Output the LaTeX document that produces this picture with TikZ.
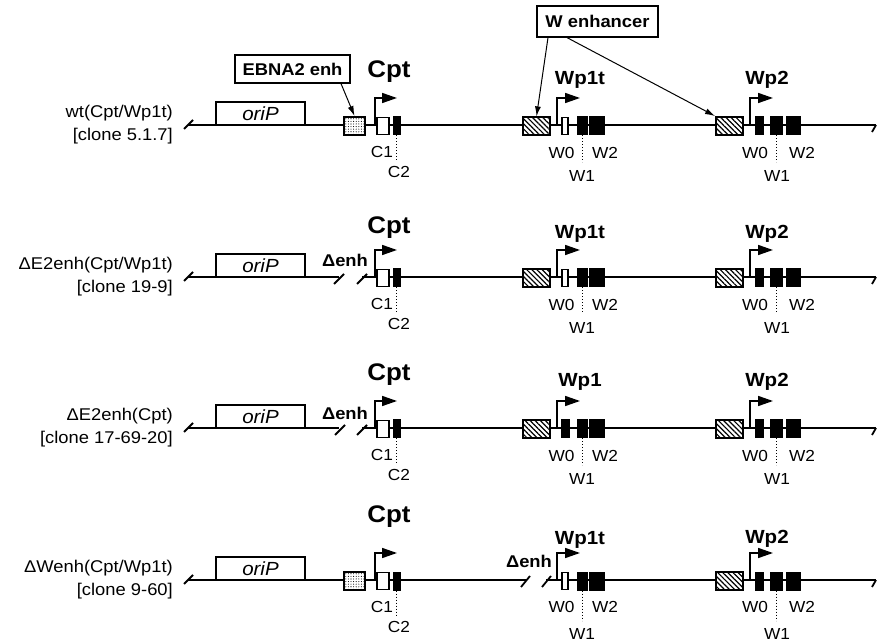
\documentclass[tikz,border=0pt]{standalone}
\usepackage{fontspec}
\setmainfont[FakeStretch=1.08]{Liberation Sans}
\usetikzlibrary{arrows.meta,patterns.meta}
\tikzset{
  x=1pt, y=-1pt,
  dna/.style={line width=2.3pt},
  endtick/.style={line width=1.8pt},
  brk/.style={line width=1.8pt},
  orip/.style={draw, line width=1.8pt, fill=white, minimum width=89pt, minimum height=23pt, inner sep=0pt, font=\fontsize{19}{22}\selectfont\itshape},
  ebox/.style={draw, line width=2pt, preaction={fill=white}, pattern={Dots[distance=2.6pt,radius=0.55pt]}, minimum width=21pt, minimum height=18pt, inner sep=0pt},
  hbox/.style={draw, line width=2pt, preaction={fill=white}, pattern={Lines[angle=-45,distance=3.6pt,line width=1.2pt]}, minimum width=27pt, minimum height=18pt, inner sep=0pt},
  obox/.style={draw, line width=1.8pt, fill=white, minimum height=17pt, inner sep=0pt},
  fbox/.style={draw, line width=1pt, fill=black, minimum height=18pt, inner sep=0pt},
  prom/.style={line width=1.6pt, -{Triangle[length=15pt,width=10pt]}},
  vdots/.style={dotted, line width=1pt},
  sub/.style={font=\fontsize{16}{18}\selectfont, inner sep=0pt},
  rowlbl/.style={font=\fontsize{17}{23}\selectfont, align=right, anchor=east, inner sep=0pt},
  cptlbl/.style={font=\fontsize{24}{28}\selectfont\bfseries, anchor=base, inner sep=0pt},
  wplbl/.style={font=\fontsize{19}{22}\selectfont\bfseries, anchor=base, inner sep=0pt},
  dellbl/.style={font=\fontsize{17}{20}\selectfont\bfseries, anchor=base, inner sep=0pt},
  annot/.style={draw, line width=1.2pt, fill=white, inner sep=0pt, font=\fontsize{17}{20}\selectfont\bfseries},
  conn/.style={line width=1pt, -{Latex[length=10pt,width=6pt]}}
}
\begin{document}
\begin{tikzpicture}
\useasboundingbox (0,0) rectangle (879,644);

% ---------------- Row 1 ----------------
\begin{scope}[shift={(0,125)}]
  \node[rowlbl] (lab1) at (173,0) {wt(Cpt/Wp1t)\\{[}clone 5.1.7{]}};
  \draw[dna] (188,0) -- (876,0);
  \draw[endtick] (184,4) -- (193,-5);
  \draw[endtick] (876,0) -- (872,7);
  \node[orip] (ori1) at (260.5,-11.5) {oriP};
  \node[ebox] (e1) at (354.5,1) {};
  \draw[prom] (375,0) -- (375,-27) -- (397,-27);
  \node[obox, minimum width=12pt] (c1r1) at (383,1) {};
  \node[fbox, minimum width=7pt] (c2r1) at (396.5,1) {};
  \draw[vdots] (c2r1.south) -- ++(0,26);
  \node[sub] (tc1r1) at (382,27) {C1};
  \node[sub] (tc2r1) at (399,47) {C2};
  \node[cptlbl] (cpt1) at (389,-47) {Cpt};
  % Wp1t
  \node[hbox] (h1r1) at (536.5,1) {};
  \draw[prom] (557,0) -- (557,-27) -- (580,-27);
  \node[obox, minimum width=6pt] (w0r1) at (565,1) {};
  \node[fbox, minimum width=10pt] (w1r1) at (582,1) {};
  \node[fbox, minimum width=15pt] (w2r1) at (596.5,1) {};
  \draw[vdots] (w1r1.south) -- ++(0,27);
  \node[sub] (tw0r1) at (561.5,28) {W0};
  \node[sub] (tw2r1) at (605,28) {W2};
  \node[sub] (tw1r1) at (582,51) {W1};
  \node[wplbl] (wp1r1) at (580,-40) {Wp1t};
  % Wp2
  \node[hbox] (h2r1) at (729.5,1) {};
  \draw[prom] (750,0) -- (750,-27) -- (773,-27);
  \node[fbox, minimum width=8pt] (v0r1) at (759,1) {};
  \node[fbox, minimum width=12pt] (v1r1) at (776,1) {};
  \node[fbox, minimum width=14pt] (v2r1) at (793,1) {};
  \draw[vdots] (v1r1.south) -- ++(0,27);
  \node[sub] (tv0r1) at (755,28) {W0};
  \node[sub] (tv2r1) at (802,28) {W2};
  \node[sub] (tv1r1) at (777,51) {W1};
  \node[wplbl] (wp2r1) at (767,-40) {Wp2};
\end{scope}

% ---------------- Row 2 ----------------
\begin{scope}[shift={(0,277)}]
  \node[rowlbl] (lab2) at (173,0) {ΔE2enh(Cpt/Wp1t)\\{[}clone 19-9{]}};
  \draw[dna] (188,0) -- (339,0);
  \draw[dna] (362,0) -- (876,0);
  \draw[brk] (334,7) -- (344,-3);
  \draw[brk] (357,7) -- (367,-3);
  \draw[endtick] (184,4) -- (193,-5);
  \draw[endtick] (876,0) -- (872,7);
  \node[orip] (ori2) at (260.5,-11.5) {oriP};
  \node[dellbl] (del2) at (345,-10) {Δenh};
  \draw[prom] (375,0) -- (375,-27) -- (397,-27);
  \node[obox, minimum width=12pt] (c1r2) at (383,1) {};
  \node[fbox, minimum width=7pt] (c2r2) at (396.5,1) {};
  \draw[vdots] (c2r2.south) -- ++(0,26);
  \node[sub] (tc1r2) at (382,27) {C1};
  \node[sub] (tc2r2) at (399,47) {C2};
  \node[cptlbl] (cpt2) at (389,-43) {Cpt};
  % Wp1t
  \node[hbox] (h1r2) at (536.5,1) {};
  \draw[prom] (557,0) -- (557,-27) -- (580,-27);
  \node[obox, minimum width=6pt] (w0r2) at (565,1) {};
  \node[fbox, minimum width=10pt] (w1r2) at (582,1) {};
  \node[fbox, minimum width=15pt] (w2r2) at (596.5,1) {};
  \draw[vdots] (w1r2.south) -- ++(0,27);
  \node[sub] (tw0r2) at (561.5,28) {W0};
  \node[sub] (tw2r2) at (605,28) {W2};
  \node[sub] (tw1r2) at (582,51) {W1};
  \node[wplbl] (wp1r2) at (580,-38) {Wp1t};
  % Wp2
  \node[hbox] (h2r2) at (729.5,1) {};
  \draw[prom] (750,0) -- (750,-27) -- (773,-27);
  \node[fbox, minimum width=8pt] (v0r2) at (759,1) {};
  \node[fbox, minimum width=12pt] (v1r2) at (776,1) {};
  \node[fbox, minimum width=14pt] (v2r2) at (793,1) {};
  \draw[vdots] (v1r2.south) -- ++(0,27);
  \node[sub] (tv0r2) at (755,28) {W0};
  \node[sub] (tv2r2) at (802,28) {W2};
  \node[sub] (tv1r2) at (777,51) {W1};
  \node[wplbl] (wp2r2) at (767,-38) {Wp2};
\end{scope}

% ---------------- Row 3 ----------------
\begin{scope}[shift={(0,428)}]
  \node[rowlbl] (lab3) at (173,0) {ΔE2enh(Cpt)\\{[}clone 17-69-20{]}};
  \draw[dna] (188,0) -- (339,0);
  \draw[dna] (362,0) -- (876,0);
  \draw[brk] (335,7) -- (345,-3);
  \draw[brk] (357,7) -- (367,-3);
  \draw[endtick] (184,4) -- (193,-5);
  \draw[endtick] (876,0) -- (872,7);
  \node[orip] (ori3) at (260.5,-11.5) {oriP};
  \node[dellbl] (del3) at (345,-8) {Δenh};
  \draw[prom] (375,0) -- (375,-27) -- (397,-27);
  \node[obox, minimum width=12pt] (c1r3) at (383,1) {};
  \node[fbox, minimum width=7pt] (c2r3) at (396.5,1) {};
  \draw[vdots] (c2r3.south) -- ++(0,26);
  \node[sub] (tc1r3) at (382,27) {C1};
  \node[sub] (tc2r3) at (399,47) {C2};
  \node[cptlbl] (cpt3) at (389,-47) {Cpt};
  % Wp1
  \node[hbox] (h1r3) at (536.5,1) {};
  \draw[prom] (557,0) -- (557,-27) -- (580,-27);
  \node[fbox, minimum width=8pt] (w0r3) at (565,1) {};
  \node[fbox, minimum width=10pt] (w1r3) at (582,1) {};
  \node[fbox, minimum width=15pt] (w2r3) at (596.5,1) {};
  \draw[vdots] (w1r3.south) -- ++(0,27);
  \node[sub] (tw0r3) at (561.5,28) {W0};
  \node[sub] (tw2r3) at (605,28) {W2};
  \node[sub] (tw1r3) at (582,51) {W1};
  \node[wplbl] (wp1r3) at (580,-41) {Wp1};
  % Wp2
  \node[hbox] (h2r3) at (729.5,1) {};
  \draw[prom] (750,0) -- (750,-27) -- (773,-27);
  \node[fbox, minimum width=8pt] (v0r3) at (759,1) {};
  \node[fbox, minimum width=12pt] (v1r3) at (776,1) {};
  \node[fbox, minimum width=14pt] (v2r3) at (793,1) {};
  \draw[vdots] (v1r3.south) -- ++(0,27);
  \node[sub] (tv0r3) at (755,28) {W0};
  \node[sub] (tv2r3) at (802,28) {W2};
  \node[sub] (tv1r3) at (777,51) {W1};
  \node[wplbl] (wp2r3) at (767,-41) {Wp2};
\end{scope}

% ---------------- Row 4 ----------------
\begin{scope}[shift={(0,580)}]
  \node[rowlbl] (lab4) at (173,0) {ΔWenh(Cpt/Wp1t)\\{[}clone 9-60{]}};
  \draw[dna] (188,0) -- (526,0);
  \draw[dna] (546,0) -- (876,0);
  \draw[brk] (521,7) -- (530,-4);
  \draw[brk] (542,7) -- (551,-4);
  \draw[endtick] (184,4) -- (193,-5);
  \draw[endtick] (876,0) -- (872,7);
  \node[orip] (ori4) at (260.5,-11.5) {oriP};
  \node[ebox] (e4) at (354.5,1) {};
  \draw[prom] (375,0) -- (375,-27) -- (397,-27);
  \node[obox, minimum width=12pt] (c1r4) at (383,1) {};
  \node[fbox, minimum width=7pt] (c2r4) at (396.5,1) {};
  \draw[vdots] (c2r4.south) -- ++(0,26);
  \node[sub] (tc1r4) at (382,27) {C1};
  \node[sub] (tc2r4) at (399,47) {C2};
  \node[cptlbl] (cpt4) at (389,-58) {Cpt};
  % Wp1t (enhancer deleted)
  \node[dellbl] (del4) at (529,-13) {Δenh};
  \draw[prom] (557,0) -- (557,-27) -- (580,-27);
  \node[obox, minimum width=6pt] (w0r4) at (565,1) {};
  \node[fbox, minimum width=10pt] (w1r4) at (582,1) {};
  \node[fbox, minimum width=15pt] (w2r4) at (596.5,1) {};
  \draw[vdots] (w1r4.south) -- ++(0,30);
  \node[sub] (tw0r4) at (561.5,27) {W0};
  \node[sub] (tw2r4) at (605,27) {W2};
  \node[sub] (tw1r4) at (582,54) {W1};
  \node[wplbl] (wp1r4) at (580,-36) {Wp1t};
  % Wp2
  \node[hbox] (h2r4) at (729.5,1) {};
  \draw[prom] (750,0) -- (750,-27) -- (773,-27);
  \node[fbox, minimum width=8pt] (v0r4) at (759,1) {};
  \node[fbox, minimum width=12pt] (v1r4) at (776,1) {};
  \node[fbox, minimum width=14pt] (v2r4) at (793,1) {};
  \draw[vdots] (v1r4.south) -- ++(0,30);
  \node[sub] (tv0r4) at (755,27) {W0};
  \node[sub] (tv2r4) at (802,27) {W2};
  \node[sub] (tv1r4) at (777,54) {W1};
  \node[wplbl] (wp2r4) at (767,-37) {Wp2};
\end{scope}

% ---------------- Annotations ----------------
\node[annot, minimum width=115pt, minimum height=28pt] (ebna) at (292.5,69) {EBNA2 enh};
\node[annot, minimum width=121pt, minimum height=31pt] (wenh) at (597.5,21.5) {W enhancer};
\draw[conn] ([xshift=48.5pt]ebna.south) -- (e1.north);
\draw[conn] ([xshift=-49.5pt]wenh.south) -- (h1r1.north);
\draw[conn] ([xshift=-30.5pt]wenh.south) -- (h2r1.north west);
\end{tikzpicture}
\end{document}
